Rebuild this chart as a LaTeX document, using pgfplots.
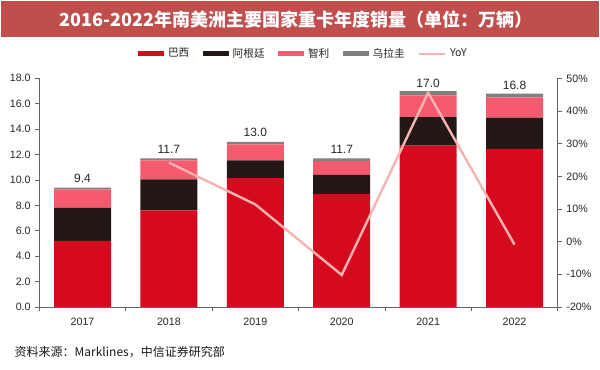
\documentclass[border=0pt]{standalone}
\usepackage{pgfplots}
\pgfplotsset{compat=1.18}
\usepackage{fontspec}
\setmainfont{Liberation Sans}
\newfontfamily\cjk{Noto Sans CJK SC}
\definecolor{brazil}{RGB}{214,10,30}
\definecolor{argentina}{RGB}{35,24,21}
\definecolor{chile}{RGB}{245,90,110}
\definecolor{uruguay}{RGB}{128,128,128}
\definecolor{yoy}{RGB}{248,178,178}
\definecolor{banner}{RGB}{192,78,76}
\definecolor{axisgray}{RGB}{100,100,100}
\pgfplotsset{
  sw/.style={legend image code/.code={\fill[#1] (0pt,-1.9pt) rectangle (19.5pt,1.9pt);}},
}
\begin{document}
\begin{tikzpicture}[x=1pt,y=1pt]
\useasboundingbox (0,0) rectangle (450,277.5);
\fill[banner] (1,249.5) rectangle (449,276.5);
\node[text=white,font=\cjk\bfseries\fontsize{13.5}{15}\selectfont] at (222,263) {2016-2022年南美洲主要国家重卡年度销量（单位：万辆）};
\begin{axis}[
  at={(29.5pt,47.25pt)}, anchor=south west, scale only axis,
  width=388.8pt, height=171.5pt,
  ybar stacked, bar width=42.75pt,
  xmin=-0.5, xmax=5.5, ymin=0, ymax=18,
  axis y line*=left, axis x line*=bottom,
  axis line style={axisgray, line width=0.6pt, -},
  xtick={-0.5,0.5,...,5.5}, x tick label as interval,
  xticklabels={2017,2018,2019,2020,2021,2022},
  ytick={0,2,...,18},
  yticklabel style={/pgf/number format/.cd, fixed, fixed zerofill, precision=1},
  /pgf/number format/assume math mode=true,
  tick align=outside, major tick length=3pt,
  tick style={axisgray, line width=0.6pt},
  tick label style={font=\fontsize{8}{9}\selectfont, text=black!85},
  xticklabel style={yshift=-2pt},
  legend columns=5,
  legend style={draw=none, fill=none, at={(0.51,1.108)}, anchor=center,
    font=\cjk\fontsize{8}{9}\selectfont, text=black!85,
    /tikz/every even column/.append style={column sep=8pt},
    /tikz/every odd column/.append style={column sep=1pt}},
]
\addplot[fill=brazil, draw=none, sw=brazil] coordinates {(0,5.2)(1,7.6)(2,10.15)(3,8.9)(4,12.7)(5,12.45)};
\addlegendentry{巴西}
\addplot[fill=argentina, draw=none, sw=argentina] coordinates {(0,2.6)(1,2.45)(2,1.4)(3,1.5)(4,2.25)(5,2.45)};
\addlegendentry{阿根廷}
\addplot[fill=chile, draw=none, sw=chile] coordinates {(0,1.45)(1,1.5)(2,1.25)(3,1.1)(4,1.7)(5,1.6)};
\addlegendentry{智利}
\addplot[fill=uruguay, draw=none, sw=uruguay, point meta=explicit,
  nodes near coords={\pgfmathprintnumber[fixed,fixed zerofill,precision=1]{\pgfplotspointmeta}},
  nodes near coords style={font=\fontsize{9}{10}\selectfont, text=black!85, anchor=south, yshift=1pt}]
  coordinates {(0,0.15)[9.4] (1,0.15)[11.7] (2,0.2)[13.0] (3,0.2)[11.7] (4,0.35)[17.0] (5,0.3)[16.8]};
\addlegendentry{乌拉圭}
\addlegendimage{legend image code/.code={\draw[yoy, line width=1.5pt] (0pt,0pt) -- (19.5pt,0pt);}}
\addlegendentry{YoY}
\end{axis}
\begin{axis}[
  at={(29.5pt,47.25pt)}, anchor=south west, scale only axis,
  width=388.8pt, height=171.5pt,
  xmin=-0.5, xmax=5.5, ymin=-20, ymax=50,
  axis y line*=right, axis x line=none,
  axis line style={axisgray, line width=0.6pt, -},
  ytick={-20,-10,...,50},
  yticklabel={\pgfmathprintnumber{\tick}\%},
  /pgf/number format/assume math mode=true,
  tick align=outside, major tick length=3pt,
  tick style={axisgray, line width=0.6pt},
  tick label style={font=\fontsize{8}{9}\selectfont, text=black!85},
]
\addplot[yoy, line width=1.8pt, mark=none] coordinates {(1,24.2)(2,11.4)(3,-10.2)(4,45.6)(5,-0.9)};
\end{axis}
\node[anchor=west, font=\cjk\fontsize{9}{10}\selectfont, text=black!90] at (7.5,13.5) {资料来源：Marklines，中信证券研究部};
\end{tikzpicture}
\end{document}
